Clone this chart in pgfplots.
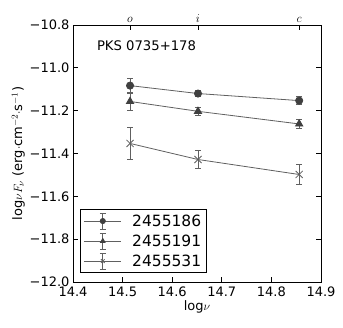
\documentclass[border=0pt]{standalone}
\usepackage{pgfplots}
\pgfplotsset{compat=1.18}
\usepackage{fontspec}
\setmainfont{DejaVu Sans}
\setsansfont{DejaVu Sans}

\definecolor{lncol}{HTML}{606060}
\definecolor{mkcol}{HTML}{404040}

\pgfplotsset{
  errlegend/.style={
    legend image code/.code={
      \draw[lncol,line width=0.8pt] (0pt,0pt) -- (37pt,0pt);
      \draw[lncol,line width=0.8pt] (19pt,-8pt) -- (19pt,8pt);
      \draw[lncol,line width=0.8pt] (16pt,-8pt) -- (22pt,-8pt);
      \draw[lncol,line width=0.8pt] (16pt,8pt) -- (22pt,8pt);
      \draw[mkcol,#1,mark size=2.6pt] plot coordinates {(19pt,0pt)};
    }
  },
  mystyle/.style={
    scale only axis, width=248pt, height=257pt,
    xmin=14.4, xmax=14.9,
    tick align=inside, major tick length=5pt,
    axis line style={line width=0.9pt},
    every tick/.style={black, line width=0.8pt},
    tick label style={font=\fontsize{13}{15}\selectfont},
    /pgf/number format/assume math mode=true,
  }
}

\begin{document}
\begin{tikzpicture}
\begin{axis}[
  mystyle,
  ymin=-12.0, ymax=-10.8,
  xtick={14.4,14.5,14.6,14.7,14.8,14.9},
  xticklabels={14.4,14.5,14.6,14.7,14.8,14.9},
  ytick={-12.0,-11.8,-11.6,-11.4,-11.2,-11.0,-10.8},
  yticklabels={−12.0,−11.8,−11.6,−11.4,−11.2,−11.0,−10.8},
  xtick pos=bottom, ytick pos=both,
  xticklabel style={yshift=-1pt},
  xlabel={log$\nu$},
  ylabel={log$\nu F_\nu$ (erg$\cdot$cm$^{-2}\cdot$s$^{-1}$)},
  label style={font=\fontsize{13}{15}\selectfont},
  xlabel style={yshift=3pt},
  ylabel style={yshift=-2pt},
  legend cell align=left,
  legend style={at={(0.028,0.035)}, anchor=south west, draw=black, line width=0.9pt,
    font=\fontsize{15.5}{17}\selectfont, row sep=3pt, inner xsep=3pt, inner ysep=3pt},
]
\addplot+[errlegend, lncol, line width=0.8pt, mark=*, mark size=3.6pt,
  mark options={mkcol, fill=mkcol},
  error bars/.cd, y dir=both, y explicit,
  error bar style={lncol, line width=0.8pt}, error mark options={rotate=90, lncol, mark size=3pt, line width=0.8pt}]
  coordinates {(14.515,-11.083) +- (0,0.035) (14.652,-11.120) +- (0,0.015) (14.856,-11.153) +- (0,0.020)};
\addlegendentry{\hspace*{9pt}2455186}
\addplot+[errlegend, lncol, line width=0.8pt, mark=triangle*, mark size=4.2pt,
  mark options={mkcol, fill=mkcol},
  error bars/.cd, y dir=both, y explicit,
  error bar style={lncol, line width=0.8pt}, error mark options={rotate=90, lncol, mark size=3pt, line width=0.8pt}]
  coordinates {(14.515,-11.157) +- (0,0.040) (14.652,-11.203) +- (0,0.020) (14.856,-11.262) +- (0,0.022)};
\addlegendentry{\hspace*{9pt}2455191}
\addplot+[errlegend, lncol, line width=0.8pt, mark=x, mark size=5pt,
  mark options={lncol, line width=0.8pt},
  error bars/.cd, y dir=both, y explicit,
  error bar style={lncol, line width=0.8pt}, error mark options={rotate=90, lncol, mark size=3pt, line width=0.8pt}]
  coordinates {(14.515,-11.353) +- (0,0.076) (14.652,-11.428) +- (0,0.043) (14.856,-11.498) +- (0,0.047)};
\addlegendentry{\hspace*{9pt}2455531}
\node[anchor=west, font=\fontsize{13.2}{15}\selectfont, inner sep=0pt] at (axis cs:14.448,-10.898) {PKS 0735+178};
\end{axis}
\begin{axis}[
  mystyle,
  ymin=0, ymax=1,
  axis x line*=top, axis y line=none,
  xtick={14.515,14.652,14.856},
  xticklabels={$o$,$i$,$c$},
  xticklabel style={yshift=-1pt},
]
\addplot[draw=none] coordinates {(14.5,0.5)};
\end{axis}
\useasboundingbox ([xshift=-73pt,yshift=-45pt]current axis.south west) rectangle ([xshift=22pt,yshift=25pt]current axis.north east);
\end{tikzpicture}
\end{document}
